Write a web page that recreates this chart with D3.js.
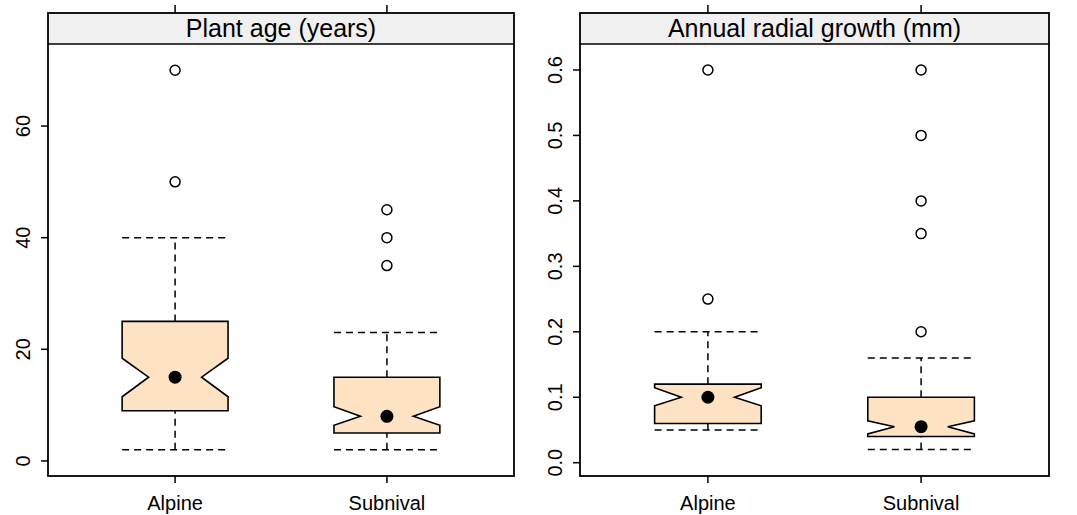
<!DOCTYPE html>
<html><head><meta charset="utf-8">
<script src="https://cdn.jsdelivr.net/npm/d3@7"></script>
<style>body{margin:0;background:#fff;} text{font-family:"Liberation Sans",Arial,sans-serif;fill:#000;}</style>
</head><body>
<svg id="chart" width="1077" height="515"></svg>
<script>
const categories = ["Alpine", "Subnival"];

const panelTitles = ["Plant age (years)", "Annual radial growth (mm)"];

const ageQ1 = [9, 5];
const ageMedian = [15, 8];
const ageQ3 = [25, 15];
const ageWhiskerLow = [2, 2];
const ageWhiskerHigh = [40, 23];
const ageNotchLow = [11.5, 6.4];
const ageNotchHigh = [18.4, 9.7];
const ageOutliers = [[70, 50], [45, 40, 35]];
const ageTicks = [0, 20, 40, 60];
const ageTickLabels = ["0", "20", "40", "60"];
const ageDomain = [-2.7, 74.7];

const growthQ1 = [0.06, 0.04];
const growthMedian = [0.10, 0.055];
const growthQ3 = [0.12, 0.10];
const growthWhiskerLow = [0.05, 0.02];
const growthWhiskerHigh = [0.20, 0.16];
const growthNotchLow = [0.087, 0.044];
const growthNotchHigh = [0.1146, 0.064];
const growthOutliers = [[0.6, 0.25], [0.6, 0.5, 0.4, 0.35, 0.2]];
const growthTicks = [0.0, 0.1, 0.2, 0.3, 0.4, 0.5, 0.6];
const growthTickLabels = ["0.0", "0.1", "0.2", "0.3", "0.4", "0.5", "0.6"];
const growthDomain = [-0.0203, 0.6397];

const svg = d3.select("#chart");
const frameTop = 13, stripBottom = 44, plotBottom = 476;

function panel(x0, x1, title, q1, med, q3, wl, wh, nl, nh, outl, ticks, tickLabels, domain) {
  const g = svg.append("g");
  const x = d3.scalePoint().domain(categories).range([x0, x1]).padding(0.6);
  const y = d3.scaleLinear().domain(domain).range([plotBottom, stripBottom]);
  const half = x.step() * 0.25;
  const notchIn = half * 0.5;

  // strip
  g.append("rect").attr("x", x0).attr("y", frameTop).attr("width", x1 - x0).attr("height", stripBottom - frameTop)
    .attr("fill", "#f0f0f0").attr("stroke", "none");
  g.append("text").attr("x", (x0 + x1) / 2).attr("y", 37).attr("text-anchor", "middle")
    .style("font-size", "25px").text(title);

  categories.forEach((c, i) => {
    const cx = x(c);
    // whiskers
    [[q3[i], wh[i]], [wl[i], q1[i]]].forEach(([a, b]) => {
      g.append("line").attr("x1", cx).attr("x2", cx).attr("y1", y(a)).attr("y2", y(b))
        .attr("stroke", "#000").attr("stroke-width", 1.5).attr("stroke-dasharray", "7,5");
    });
    [wh[i], wl[i]].forEach(v => {
      g.append("line").attr("x1", cx - half).attr("x2", cx + half).attr("y1", y(v)).attr("y2", y(v))
        .attr("stroke", "#000").attr("stroke-width", 1.5).attr("stroke-dasharray", "7,5");
    });
    // notched box
    const pts = [
      [cx - half, y(q3[i])], [cx + half, y(q3[i])], [cx + half, y(nh[i])], [cx + notchIn, y(med[i])],
      [cx + half, y(nl[i])], [cx + half, y(q1[i])], [cx - half, y(q1[i])], [cx - half, y(nl[i])],
      [cx - notchIn, y(med[i])], [cx - half, y(nh[i])]
    ];
    g.append("polygon").attr("points", pts.map(p => p.join(",")).join(" "))
      .attr("fill", "#FDE3C4").attr("stroke", "#000").attr("stroke-width", 1.6).attr("stroke-linejoin", "miter");
    g.append("circle").attr("cx", cx).attr("cy", y(med[i])).attr("r", 6.5).attr("fill", "#000");
    outl[i].forEach(v => {
      g.append("circle").attr("cx", cx).attr("cy", y(v)).attr("r", 5)
        .attr("fill", "none").attr("stroke", "#000").attr("stroke-width", 1.5);
    });
    // bottom ticks & labels
    g.append("line").attr("x1", cx).attr("x2", cx).attr("y1", plotBottom).attr("y2", plotBottom + 7)
      .attr("stroke", "#000").attr("stroke-width", 1.5);
    g.append("line").attr("x1", cx).attr("x2", cx).attr("y1", frameTop).attr("y2", frameTop - 8)
      .attr("stroke", "#000").attr("stroke-width", 1.5);
    g.append("text").attr("x", cx).attr("y", 510).attr("text-anchor", "middle")
      .style("font-size", "20px").text(c);
  });

  ticks.forEach((t, k) => {
    g.append("line").attr("x1", x0 - 7).attr("x2", x0).attr("y1", y(t)).attr("y2", y(t))
      .attr("stroke", "#000").attr("stroke-width", 1.5);
    g.append("text").attr("transform", `translate(${x0 - 18},${y(t)}) rotate(-90)`)
      .attr("text-anchor", "middle").style("font-size", "20px").text(tickLabels[k]);
  });

  // frame
  g.append("line").attr("x1", x0).attr("x2", x1).attr("y1", stripBottom).attr("y2", stripBottom)
    .attr("stroke", "#000").attr("stroke-width", 1.5);
  g.append("rect").attr("x", x0).attr("y", frameTop).attr("width", x1 - x0).attr("height", plotBottom - frameTop)
    .attr("fill", "none").attr("stroke", "#000").attr("stroke-width", 1.8);
}

panel(48, 514, panelTitles[0], ageQ1, ageMedian, ageQ3, ageWhiskerLow, ageWhiskerHigh, ageNotchLow, ageNotchHigh, ageOutliers, ageTicks, ageTickLabels, ageDomain);
panel(580, 1049, panelTitles[1], growthQ1, growthMedian, growthQ3, growthWhiskerLow, growthWhiskerHigh, growthNotchLow, growthNotchHigh, growthOutliers, growthTicks, growthTickLabels, growthDomain);
</script>
</body></html>
